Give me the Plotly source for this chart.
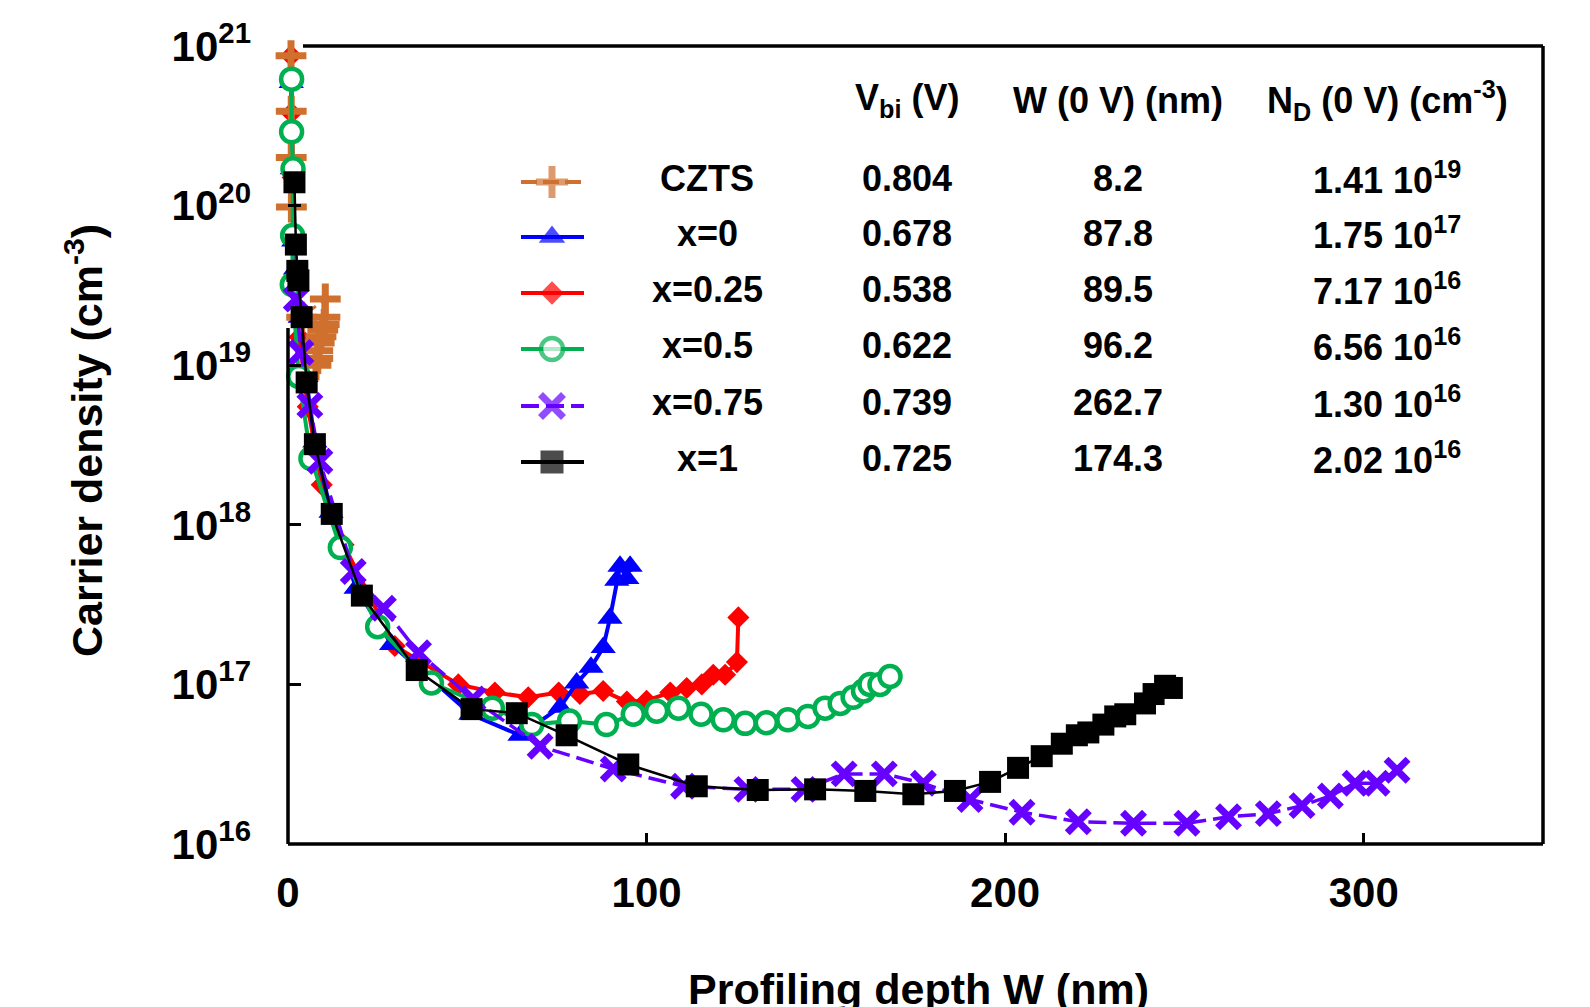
import plotly.graph_objects as go

# ---------------- data ----------------
czts_w = [0.84, 0.9, 0.9, 0.95, 3.8, 10.4, 10.3, 10.1, 9.7, 9.2, 8.7, 8.3, 8.3, 7.8]
czts_n = [8.7e20, 3.9e20, 2.0e20, 9.8e19, 2.0e19, 2.6e19, 2.0e19, 1.8e19, 1.66e19, 1.51e19, 1.38e19, 1.23e19,
          1.1e19, 1.0e19]

x0_w = [0.9, 1.2, 1.6, 2.1, 3.4, 5.0, 7.5, 12.0, 19.0, 28.9, 51.0, 64.7, 75.9, 80.5, 84.5, 87.9, 89.8, 91.7, 92.6,
        94.5, 95.4]
x0_n = [5.9e20, 1.7e20, 6.0e19, 4.0e19, 2.0e19, 8.5e18, 3.3e18, 1.2e18, 4.0e17, 1.78e17, 6.5e16, 4.8e16, 7.2e16,
        1.02e17, 1.28e17, 1.7e17, 2.6e17, 4.5e17, 5.5e17, 4.6e17, 5.5e17]

x025_w = [0.84, 0.95, 1.3, 1.8, 2.5, 3.2, 5.5, 9.4, 15.5, 29.8, 47.5, 57.7, 67.0, 75.5, 81.4, 87.9, 94.5, 100.0,
          106.6, 111.2, 115.4, 118.6, 121.9, 125.2, 125.6]
x025_n = [8.7e20, 3.8e20, 1.5e20, 6.5e19, 3.0e19, 1.5e19, 5.5e18, 1.78e18, 7.5e17, 1.74e17, 1.0e17, 8.9e16, 8.3e16,
          8.9e16, 8.7e16, 9.1e16, 7.8e16, 7.9e16, 8.9e16, 9.5e16, 1.0e17, 1.15e17, 1.15e17, 1.38e17, 2.63e17]

x05_w = [1.0, 1.0, 1.4, 1.3, 1.2, 3.0, 6.4, 14.6, 25.0, 40.0, 57.0, 68.0, 78.5, 88.8, 96.3, 102.8, 108.9, 115.2,
         121.4, 127.5, 133.4, 139.4, 145.0, 149.8, 154.0, 157.6, 160.5, 162.3, 165.1, 167.9]
x05_n = [6.2e20, 2.9e20, 1.7e20, 6.5e19, 3.2e19, 8.5e18, 2.6e18, 7.2e17, 2.3e17, 1.02e17, 7.1e16, 5.6e16, 5.9e16,
         5.6e16, 6.5e16, 6.8e16, 7.1e16, 6.5e16, 6.0e16, 5.7e16, 5.75e16, 6.0e16, 6.3e16, 7.1e16, 7.6e16, 8.3e16,
         9.1e16, 1.0e17, 1.0e17, 1.12e17]

x075_w = [2.3, 3.6, 6.1, 8.9, 18.2, 26.6, 36.4, 51.6, 70.3, 90.7, 110.3, 128.0, 143.9, 155.1, 166.3, 177.2, 190.2,
          204.7, 220.4, 235.8, 250.7, 262.3, 273.4, 282.8, 290.7, 297.6, 303.7, 309.3]
x075_n = [2.6e19, 1.2e19, 5.6e18, 2.5e18, 5.1e17, 3.0e17, 1.58e17, 8.1e16, 4.1e16, 2.95e16, 2.3e16, 2.2e16, 2.2e16,
          2.75e16, 2.75e16, 2.4e16, 1.9e16, 1.58e16, 1.38e16, 1.35e16, 1.35e16, 1.48e16, 1.55e16, 1.74e16, 2.0e16,
          2.4e16, 2.4e16, 2.9e16]

x1_w = [1.8, 2.2, 2.6, 2.9, 3.8, 5.2, 7.5, 12.2, 20.6, 35.9, 51.2, 63.8, 77.7, 94.9, 114.0, 131.0, 147.0, 161.0,
        174.4, 186.0, 195.8, 203.6, 210.2, 215.8, 220.0, 223.2, 227.4, 230.7, 233.5, 239.0, 241.4, 244.6, 246.5]
x1_n = [1.4e20, 5.7e19, 3.9e19, 3.4e19, 2.0e19, 7.8e18, 3.2e18, 1.17e18, 3.6e17, 1.23e17, 7.0e16, 6.6e16, 4.8e16,
        3.15e16, 2.3e16, 2.18e16, 2.2e16, 2.15e16, 2.05e16, 2.15e16, 2.45e16, 3.0e16, 3.55e16, 4.25e16, 4.8e16,
        5.0e16, 5.6e16, 6.3e16, 6.5e16, 7.6e16, 8.7e16, 9.8e16, 9.5e16]

sample_names = ["CZTS", "x=0", "x=0.25", "x=0.5", "x=0.75", "x=1"]
vbi = ["0.804", "0.678", "0.538", "0.622", "0.739", "0.725"]
w0 = ["8.2", "87.8", "89.5", "96.2", "262.7", "174.3"]
nd_mant = ["1.41", "1.75", "7.17", "6.56", "1.30", "2.02"]
nd_exp = ["19", "17", "16", "16", "16", "16"]

x_ticks = [0, 100, 200, 300]
y_ticks = [1e16, 1e17, 1e18, 1e19, 1e20, 1e21]
y_ticktext = ["10<sup>16</sup>", "10<sup>17</sup>", "10<sup>18</sup>", "10<sup>19</sup>",
              "10<sup>20</sup>", "10<sup>21</sup>"]

# ---------------- styles ----------------
FONT = "Liberation Sans, Arial, sans-serif"
ORANGE = "#D0702E"
BLUE = "#0000FF"
RED = "#FF0000"
GREEN = "#00B050"
PURPLE = "#6600FF"
BLACK = "#000000"

styles = [
    dict(color=ORANGE, dash="16px,6px", width=3,
         marker=dict(symbol="cross-thin", size=22, line=dict(color=ORANGE, width=7), color=ORANGE)),
    dict(color=BLUE, dash="solid", width=4,
         marker=dict(symbol="triangle-up", size=22, color=BLUE, line=dict(width=0))),
    dict(color=RED, dash="solid", width=4,
         marker=dict(symbol="diamond", size=17, color=RED, line=dict(width=0))),
    dict(color=GREEN, dash="solid", width=4,
         marker=dict(symbol="circle", size=21, color="white", line=dict(color=GREEN, width=4.5))),
    dict(color=PURPLE, dash="18px,7px", width=3.5,
         marker=dict(symbol="x-thin", size=22, line=dict(color=PURPLE, width=7), color=PURPLE)),
    dict(color=BLACK, dash="solid", width=2.5,
         marker=dict(symbol="square", size=22, color=BLACK, line=dict(width=0))),
]

series = [(czts_w, czts_n), (x0_w, x0_n), (x025_w, x025_n), (x05_w, x05_n), (x075_w, x075_n), (x1_w, x1_n)]
draw_order = [2, 1, 0, 3, 4, 5]

fig = go.Figure()
for i in draw_order:
    w, n = series[i]
    s = styles[i]
    fig.add_trace(go.Scatter(
        x=w, y=n, mode="lines+markers", name=sample_names[i], showlegend=False,
        line=dict(color=s["color"], width=s["width"], dash=s["dash"]),
        marker=s["marker"], cliponaxis=False))

# ---------------- layout geometry (page pixels; the page body adds an 8px offset) ----------------
OFF = 8
PAGE_W, PAGE_H = 1590, 1007
P_L, P_T, P_R, P_B = 288, 46, 1543, 844      # plot area in page pixels
FIG_W, FIG_H = PAGE_W - OFF, PAGE_H - OFF
ML, MT = P_L - OFF, P_T - OFF
MR, MB = FIG_W - (P_R - OFF), FIG_H - (P_B - OFF)
PW, PH = P_R - P_L, P_B - P_T


def pxx(x):
    return (x - P_L) / PW


def pxy(y):
    return (P_B - y) / PH


# legend samples on an overlay axis measured in page pixels
row_y = [182, 237, 293, 349, 406, 462]
for i in range(6):
    s = styles[i]
    m = dict(s["marker"])
    m["size"] = [0, s["marker"]["size"] + 1, 0]
    fig.add_trace(go.Scatter(
        x=[521, 552, 584], y=[row_y[i]] * 3, xaxis="x2", yaxis="y2", mode="lines+markers",
        showlegend=False, line=dict(color=s["color"], width=4, dash=s["dash"]), marker=m,
        hoverinfo="skip", cliponaxis=False))

ann = []
tfont = dict(family=FONT, size=36, color="black", weight="bold")
headers = [(907, "V<sub>bi</sub> (V)"), (1118, "W (0 V) (nm)"), (1387, "N<sub>D</sub> (0 V) (cm<sup>-3</sup>)")]
for xc, txt in headers:
    ann.append(dict(x=pxx(xc), y=pxy(100), xref="paper", yref="paper", text=txt, showarrow=False,
                    xanchor="center", yanchor="middle", font=tfont))
for i in range(6):
    yy = pxy(row_y[i] - 4)
    ann.append(dict(x=pxx(707), y=yy, xref="paper", yref="paper", text=sample_names[i], showarrow=False,
                    xanchor="center", yanchor="middle", font=tfont))
    ann.append(dict(x=pxx(907), y=yy, xref="paper", yref="paper", text=vbi[i], showarrow=False,
                    xanchor="center", yanchor="middle", font=tfont))
    ann.append(dict(x=pxx(1118), y=yy, xref="paper", yref="paper", text=w0[i], showarrow=False,
                    xanchor="center", yanchor="middle", font=tfont))
    ann.append(dict(x=pxx(1387), y=yy, xref="paper", yref="paper",
                    text=f"{nd_mant[i]} 10<sup>{nd_exp[i]}</sup>", showarrow=False,
                    xanchor="center", yanchor="middle", font=tfont))

# axis titles
ann.append(dict(x=pxx(84), y=pxy(441), xref="paper", yref="paper", text="Carrier density (cm<sup>-3</sup>)",
                textangle=-90, showarrow=False, xanchor="center", yanchor="middle",
                font=dict(family=FONT, size=43, color="black", weight="bold")))
ann.append(dict(x=pxx(918), y=pxy(989), xref="paper", yref="paper", text="Profiling depth W (nm)",
                showarrow=False, xanchor="center", yanchor="middle",
                font=dict(family=FONT, size=43, color="black", weight="bold")))

# frame (left spine only drawn below the crowded top-left region, as in the reference)
lw = 3.5
shapes = [
    dict(type="line", xref="paper", yref="paper", x0=0, x1=1, y0=0, y1=0, line=dict(color="black", width=lw)),
    dict(type="line", xref="paper", yref="paper", x0=1, x1=1, y0=0, y1=1, line=dict(color="black", width=lw)),
    dict(type="line", xref="paper", yref="paper", x0=pxx(303), x1=1, y0=1, y1=1, line=dict(color="black", width=lw)),
    dict(type="line", xref="paper", yref="paper", x0=0, x1=0, y0=0, y1=pxy(328), line=dict(color="black", width=lw)),
]

tickfont = dict(family=FONT, size=42, color="black", weight="bold")
fig.update_layout(
    width=FIG_W, height=FIG_H,
    margin=dict(l=ML, r=MR, t=MT, b=MB, autoexpand=False),
    paper_bgcolor="white", plot_bgcolor="white",
    showlegend=False,
    xaxis=dict(range=[0, 350], tickvals=x_ticks, ticks="inside", ticklen=11, tickwidth=3, tickcolor="black",
               showgrid=False, zeroline=False, showline=False, tickfont=tickfont, ticklabelstandoff=20),
    yaxis=dict(type="log", range=[16, 21], tickvals=y_ticks, ticktext=y_ticktext, ticks="inside", ticklen=13,
               tickwidth=3, tickcolor="black", showgrid=False, zeroline=False, showline=False,
               tickfont=tickfont, ticklabelstandoff=36),
    xaxis2=dict(overlaying="x", range=[P_L, P_R], visible=False, anchor="y2"),
    yaxis2=dict(overlaying="y", range=[P_B, P_T], visible=False, anchor="x2"),
    annotations=ann,
    shapes=shapes,
)

fig.write_html("out.html")
